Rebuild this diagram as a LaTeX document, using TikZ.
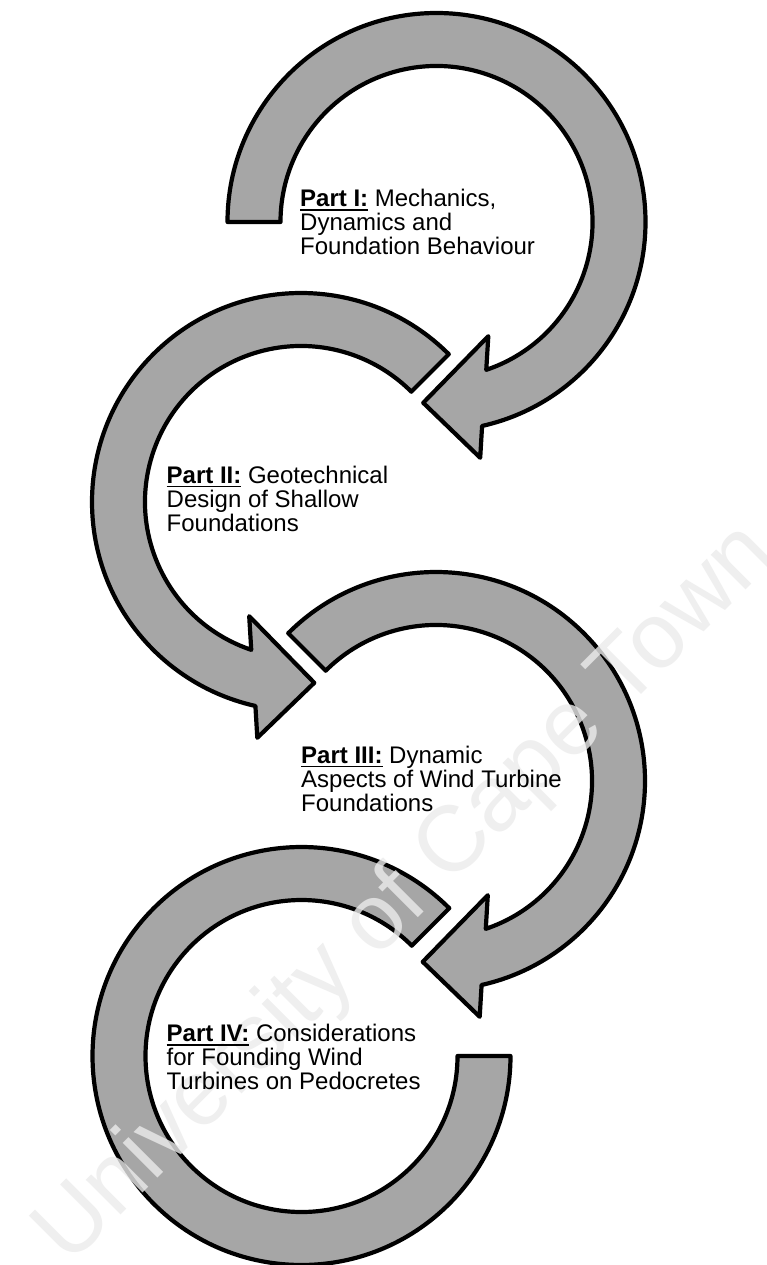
\documentclass[tikz,border=0pt]{standalone}
\usepackage{fontspec}
\setmainfont{Liberation Sans}
\newcommand\partul[1]{\leavevmode\setbox0\hbox{\textbf{#1}}\rlap{\rule[-4pt]{\wd0}{1.8pt}}\box0\relax}
\tikzset{
  band/.style={draw=black, fill=bandgray, line width=4.2pt, line join=round},
  parttext/.style={anchor=base west, inner sep=0pt, font=\fontsize{24}{24}\selectfont},
  watermark/.style={inner sep=0pt, text=black!8, text opacity=0.8, font=\fontsize{93}{93}\selectfont}
}
\definecolor{bandgray}{HTML}{A6A6A6}
\begin{document}
\begin{tikzpicture}[x=1pt,y=1pt]
\path[use as bounding box] (0,0) rectangle (767,-1265);
\fill[white] (0,0) rectangle (767,-1265);
% Arc 1 (Part I)
\begin{scope}[shift={(436.5,-222)}]
\draw[band] (180:156) -- (180:209) arc[start angle=180, end angle=-77.4, radius=209]
  -- (-79.5:239.8) -- (-94.2:181.3) -- (-65.6:125.4) -- (-71.4:156)
  arc[start angle=-71.4, end angle=180, radius=156] -- cycle;
\end{scope}
% Arc 2 (Part II)
\begin{scope}[shift={(301,-502)}]
\draw[band] (45:156) -- (45:209) arc[start angle=45, end angle=257.4, radius=209]
  -- (259.5:239.8) -- (274.2:181.3) -- (245.6:125.4) -- (251.4:156)
  arc[start angle=251.4, end angle=45, radius=156] -- cycle;
\end{scope}
% Arc 3 (Part III)
\begin{scope}[shift={(436,-781)}]
\draw[band] (135:156) -- (135:209) arc[start angle=135, end angle=-77.4, radius=209]
  -- (-79.5:239.8) -- (-94.2:181.3) -- (-65.6:125.4) -- (-71.4:156)
  arc[start angle=-71.4, end angle=135, radius=156] -- cycle;
\end{scope}
% Arc 4 (Part IV)
\begin{scope}[shift={(301.5,-1056)}]
\draw[band] (45:156) -- (45:209) arc[start angle=45, end angle=360, radius=209]
  -- (0:156) arc[start angle=360, end angle=45, radius=156] -- cycle;
\end{scope}
% Watermark
\node[watermark, rotate=45, anchor=base] (wm) at (424,-912) {University of Cape Town};
% Texts
\node[parttext] (p1) at (300,-207) {\parbox[t]{320pt}{\raggedright\partul{Part I:} Mechanics,\\Dynamics and\\Foundation Behaviour}};
\node[parttext] (p2) at (166.5,-483.3) {\parbox[t]{320pt}{\raggedright\partul{Part II:} Geotechnical\\Design of Shallow\\Foundations}};
\node[parttext] (p3) at (301,-763.3) {\parbox[t]{320pt}{\raggedright\partul{Part III:} Dynamic\\Aspects of Wind Turbine\\Foundations}};
\node[parttext] (p4) at (166.5,-1041.7) {\parbox[t]{320pt}{\raggedright\partul{Part IV:} Considerations\\for Founding Wind\\Turbines on Pedocretes}};
\end{tikzpicture}
\end{document}
